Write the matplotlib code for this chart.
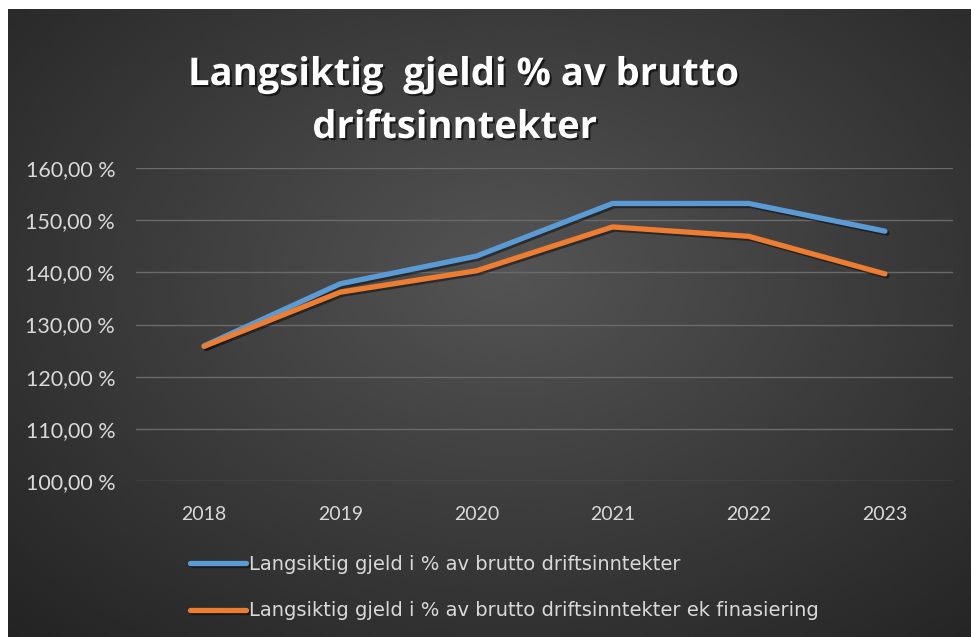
import numpy as np
import matplotlib
matplotlib.use("Agg")
import matplotlib.pyplot as plt
import matplotlib.patheffects as pe

# Data
years = ["2018", "2019", "2020", "2021", "2022", "2023"]
gjeld = [125.9, 137.8, 143.1, 153.2, 153.2, 147.9]
gjeld_ek = [125.8, 136.2, 140.3, 148.7, 146.9, 139.7]
series_names = [
    "Langsiktig gjeld i % av brutto driftsinntekter",
    "Langsiktig gjeld i % av brutto driftsinntekter ek finasiering",
]
yticks = [100, 110, 120, 130, 140, 150, 160]

W, H = 971, 637
fig = plt.figure(figsize=(W / 100, H / 100), dpi=100, facecolor="white")

# Radial gradient background (dark chart area, white strip top/left)
bg = fig.add_axes([8 / W, 0, 1 - 8 / W, 1 - 9 / H])
bg.set_axis_off()
yy, xx = np.mgrid[0:1:300j, 0:1:450j]
r = np.sqrt(((xx - 0.52) / 0.75) ** 2 + ((yy - 0.42) / 0.8) ** 2)
shade = np.clip(0.33 - 0.19 * r, 0.14, 0.33)
bg.imshow(shade, cmap="gray", vmin=0, vmax=1, aspect="auto",
          extent=[0, 1, 1, 0], interpolation="bicubic")

# Plot area
ax = fig.add_axes([136 / W, 1 - 481 / H, (953 - 136) / W, (481 - 168) / H])
ax.patch.set_alpha(0)
x = np.arange(len(years))

shadow = [pe.SimpleLineShadow(offset=(1.5, -1.5), shadow_color="black", alpha=0.45),
          pe.Normal()]
ax.plot(x, gjeld, color="#5B9BD5", lw=3.8, solid_capstyle="round",
        solid_joinstyle="round", label=series_names[0], path_effects=shadow, zorder=3)
ax.plot(x, gjeld_ek, color="#ED7D31", lw=3.8, solid_capstyle="round",
        solid_joinstyle="round", label=series_names[1], path_effects=shadow, zorder=4)

ax.set_xlim(-0.5, len(years) - 0.5)
ax.set_ylim(100, 160)
ax.set_yticks(yticks)
ax.set_yticklabels([f"{v},00 %" for v in yticks], family="Lato", fontsize=15.5)
ax.set_xticks(x)
ax.set_xticklabels(years, family="Lato", fontsize=14)
ax.grid(axis="y", color="#6a6a6a", lw=1)
ax.set_axisbelow(True)
for s in ax.spines.values():
    s.set_visible(False)
ax.tick_params(length=0, colors="#d9d9d9")
ax.tick_params(axis="y", pad=15)
ax.tick_params(axis="x", pad=18)

# Title
title_fx = [pe.withSimplePatchShadow(offset=(1.5, -1.5), shadow_rgbFace="black", alpha=0.6)]
fig.text(464 / W, 1 - 75 / H, "Langsiktig  gjeldi % av brutto", color="white",
         fontsize=27.5, fontweight="bold", family="Open Sans", ha="center", va="center",
         path_effects=title_fx)
fig.text(455 / W, 1 - 128 / H, "driftsinntekter", color="white",
         fontsize=27.5, fontweight="bold", family="Open Sans", ha="center", va="center",
         path_effects=title_fx)

# Legend
leg = fig.legend(loc="upper left", bbox_to_anchor=(172 / W, 1 - 537 / H), frameon=False,
                 labelcolor="#d9d9d9", prop={"family": "DejaVu Sans", "size": 14},
                 handlelength=2.9, handletextpad=0.15, labelspacing=1.43)

fig.savefig("out.png", dpi=100, facecolor="white")
